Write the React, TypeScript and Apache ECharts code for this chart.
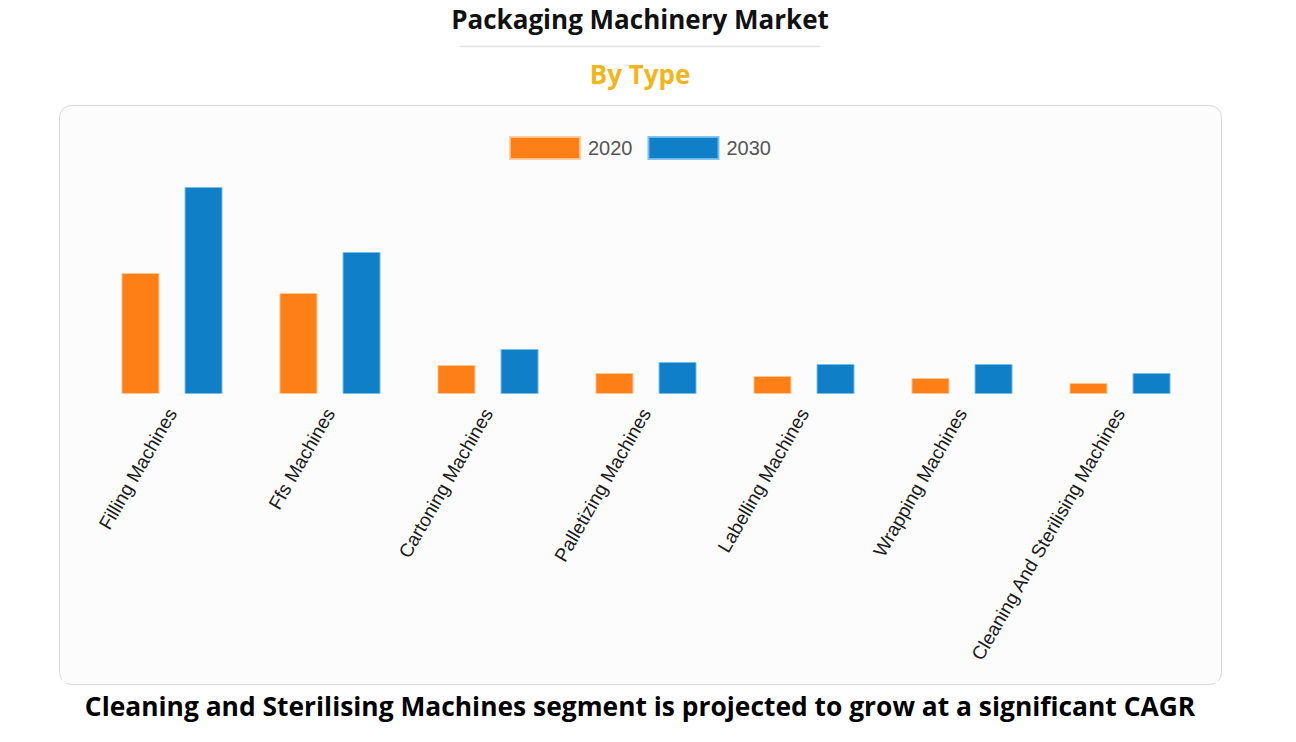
import React, { useEffect, useRef } from "react";
import * as echarts from "echarts";

const categories = [
  "Filling Machines",
  "Ffs Machines",
  "Cartoning Machines",
  "Palletizing Machines",
  "Labelling Machines",
  "Wrapping Machines",
  "Cleaning And Sterilising Machines",
];
const seriesNames = ["2020", "2030"];
const values2020 = [121, 101, 29, 21, 18, 16, 11];
const values2030 = [207, 142, 45, 32, 30, 30, 21];

const title = "Packaging Machinery Market";
const subtitle = "By Type";
const footer = "Cleaning and Sterilising Machines segment is projected to grow at a significant CAGR";

export default function App() {
  const ref = useRef<HTMLDivElement>(null);
  useEffect(() => {
    if (!ref.current) return;
    const chart = echarts.init(ref.current, null, { renderer: "svg" });
    chart.setOption({
      animation: false,
      backgroundColor: "#ffffff",
      color: ["#fd7f15", "#0f7fc8"],
      legend: {
        data: seriesNames,
        left: 504,
        top: 131,
        itemWidth: 70,
        itemHeight: 22,
        itemGap: 15,
        icon: "rect",
        textStyle: {
          fontSize: 20,
          color: "#555555",
          fontFamily: "Liberation Sans",
          padding: [0, 0, 0, 3],
        },
      },
      grid: { left: 93, right: 97, top: 187, bottom: 348, containLabel: false },
      xAxis: {
        type: "category",
        data: categories,
        axisLine: { show: false },
        axisTick: { show: false },
        axisLabel: {
          rotate: 60,
          interval: 0,
          margin: 16,
          fontSize: 19,
          color: "#1a1a1a",
          fontFamily: "Liberation Sans",
        },
      },
      yAxis: {
        type: "value",
        min: 0,
        max: 207,
        show: false,
        splitLine: { show: false },
      },
      series: [
        {
          name: seriesNames[0],
          type: "bar",
          data: values2020,
          barWidth: 38,
          barGap: "66%",
          itemStyle: { borderColor: "rgba(255,200,150,0.9)", borderWidth: 1 },
        },
        {
          name: seriesNames[1],
          type: "bar",
          data: values2030,
          barWidth: 38,
          barGap: "66%",
          itemStyle: { borderColor: "rgba(120,190,235,0.9)", borderWidth: 1 },
        },
      ],
      graphic: [
        {
          type: "rect",
          z: -10,
          silent: true,
          shape: { x: 59.5, y: 105.5, width: 1162, height: 579, r: 12 },
          style: { fill: "#fcfcfc", stroke: "#d9d9d9", lineWidth: 1 },
        },
        {
          type: "rect",
          z: 100,
          silent: true,
          shape: { x: 62, y: 668, width: 1156, height: 15 },
          style: { fill: "#fcfcfc" },
        },
        {
          type: "text",
          x: 640,
          y: 19,
          style: {
            text: title,
            x: 0,
            y: 0,
            align: "center",
            verticalAlign: "middle",
            fontSize: 26,
            fontWeight: "bold",
            fontFamily: "Open Sans",
            fill: "#111111",
          },
        },
        {
          type: "line",
          shape: { x1: 460, y1: 46.5, x2: 820, y2: 46.5 },
          style: { stroke: "#e3e3e3", lineWidth: 1.5 },
        },
        {
          type: "text",
          x: 640,
          y: 74,
          style: {
            text: subtitle,
            x: 0,
            y: 0,
            align: "center",
            verticalAlign: "middle",
            fontSize: 26,
            fontWeight: "bold",
            fontFamily: "Open Sans",
            fill: "#f2b51c",
          },
        },
        {
          type: "text",
          x: 640,
          y: 705,
          scaleX: 0.977,
          style: {
            text: footer,
            x: 0,
            y: 0,
            align: "center",
            verticalAlign: "middle",
            fontSize: 27,
            fontWeight: "bold",
            fontFamily: "Open Sans",
            fill: "#000000",
          },
        },
      ],
    });
    return () => chart.dispose();
  }, []);
  return (
    <div
      ref={ref}
      style={{ position: "absolute", left: 0, top: 0, width: 1296, height: 742 }}
    />
  );
}
